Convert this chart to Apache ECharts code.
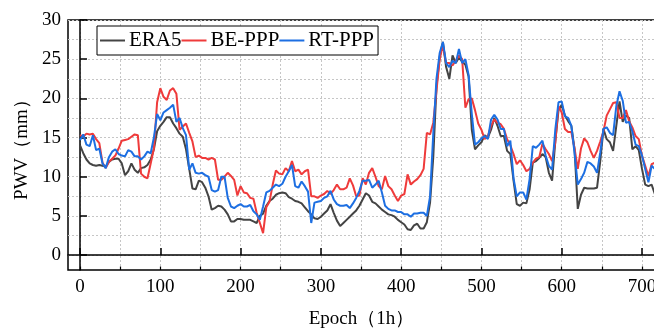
<!DOCTYPE html>
<html><head><meta charset="utf-8">
<script src="https://cdn.jsdelivr.net/npm/echarts@6/dist/echarts.min.js"></script>
<style>html,body{margin:0;padding:0;background:#fff}#c{width:654px;height:329px}</style>
</head><body><div id="c"></div>
<script>
const epochs = [0,4,8,12,16,20,24,28,32,36,40,44,48,52,56,60,64,68,72,76,80,84,88,92,96,100,104,108,112,116,120,124,128,132,136,140,144,148,152,156,160,164,168,172,176,180,184,188,192,196,200,204,208,212,216,220,224,228,232,236,240,244,248,252,256,260,264,268,272,276,280,284,288,292,296,300,304,308,312,316,320,324,328,332,336,340,344,348,352,356,360,364,368,372,376,380,384,388,392,396,400,404,408,412,416,420,424,428,432,436,440,444,448,452,456,460,464,468,472,476,480,484,488,492,496,500,504,508,512,516,520,524,528,532,536,540,544,548,552,556,560,564,568,572,576,580,584,588,592,596,600,604,608,612,616,620,624,628,632,636,640,644,648,652,656,660,664,668,672,676,680,684,688,692,696,700,704,708,712,716];
const era5 = [14.0,13.0,12.2,11.7,11.5,11.4,11.5,11.4,11.3,11.9,12.2,12.3,12.3,11.7,10.2,10.7,11.7,10.9,10.5,11.1,11.2,11.5,12.2,13.5,15.8,16.5,17.0,17.6,17.6,16.8,16.2,15.5,15.1,13.5,11.0,8.5,8.4,9.5,9.3,8.6,7.5,5.8,6.0,6.3,6.2,5.8,5.2,4.3,4.3,4.6,4.6,4.5,4.5,4.5,4.3,4.1,5.0,5.3,6.3,6.9,7.2,7.7,7.9,8.0,7.9,7.4,7.2,6.9,6.8,6.6,6.1,5.6,5.2,4.7,4.6,4.9,5.3,5.7,6.5,5.4,4.4,3.7,4.1,4.5,4.9,5.3,5.7,6.3,7.1,7.9,7.6,6.8,6.6,6.2,5.8,5.5,5.2,5.1,4.9,4.5,4.2,3.9,3.3,3.2,3.8,4.0,3.4,3.4,4.2,6.7,12.5,21.5,25.3,27.2,24.0,22.5,25.5,24.5,25.2,24.7,24.3,22.8,16.0,13.5,14.0,14.4,15.3,15.0,16.0,17.5,16.5,15.2,15.2,13.3,12.9,9.5,6.5,6.3,6.7,6.6,8.4,11.8,12.0,12.4,12.9,12.5,10.5,9.5,14.5,18.5,19.2,17.8,17.1,16.5,13.5,5.9,7.7,8.6,8.5,8.5,8.5,8.6,12.0,16.1,14.8,14.4,13.3,16.5,19.6,17.0,17.8,17.5,13.5,13.9,13.4,11.0,9.0,8.8,9.0,7.8];
const bePPP = [15.3,15.1,15.5,15.4,15.5,14.8,14.3,11.8,11.1,11.9,12.3,12.7,13.6,14.6,14.7,14.8,15.1,15.4,15.3,10.4,10.0,9.8,11.7,13.6,19.5,21.3,20.2,19.8,21.0,21.3,20.6,16.0,16.4,16.8,15.6,14.5,12.5,12.7,12.4,12.4,12.2,12.4,12.2,9.6,9.6,10.0,10.5,10.1,9.6,7.6,8.8,8.0,7.9,7.3,7.2,5.4,4.1,2.8,6.1,6.8,9.0,10.8,10.4,10.3,11.1,10.7,12.0,10.7,10.9,10.3,10.7,10.9,7.5,7.5,7.3,7.6,7.8,8.2,7.8,8.3,9.0,8.4,8.4,8.6,9.8,8.9,7.5,7.6,9.8,9.0,10.5,11.1,10.0,8.8,8.4,10.1,8.8,8.4,7.6,6.9,7.6,7.8,10.3,9.0,9.4,9.7,10.2,11.0,15.6,15.4,16.9,21.0,25.0,26.8,24.5,24.5,24.2,24.8,25.5,25.0,18.8,19.9,20.0,18.5,16.8,16.0,14.8,15.2,16.5,17.3,16.9,16.7,16.1,14.8,14.0,12.9,11.6,12.1,11.5,10.7,11.0,11.8,12.3,12.5,14.2,13.5,12.9,12.0,14.4,19.0,18.2,16.1,15.7,15.7,13.6,11.0,13.6,14.9,14.4,13.3,12.4,13.3,14.5,15.8,17.8,18.6,19.4,19.5,17.5,17.5,18.5,17.1,16.3,15.2,14.8,12.7,11.4,10.1,11.6,11.8];
const rtPPP = [14.7,15.4,14.1,13.9,15.3,13.4,13.6,11.7,11.1,12.5,13.2,13.5,12.9,12.7,12.6,13.4,13.2,12.6,12.6,12.2,12.6,13.2,13.0,15.0,18.0,17.2,18.2,18.5,18.8,19.2,17.0,17.5,16.2,15.3,10.9,11.7,10.5,10.4,10.5,10.2,10.0,8.3,8.1,8.3,10.0,10.0,7.3,6.2,6.0,6.3,6.5,6.2,6.2,6.4,5.6,5.2,4.5,6.2,8.0,8.2,8.6,9.0,8.8,9.1,10.0,10.7,11.5,8.8,8.6,9.4,8.8,8.1,4.1,6.7,6.8,6.9,7.3,7.5,8.2,7.1,6.5,6.3,6.3,6.4,6.0,6.6,7.3,8.2,9.5,9.5,9.6,8.6,9.0,9.5,8.0,6.3,5.9,5.7,5.7,5.5,5.5,5.2,5.2,4.9,5.3,5.3,5.4,5.4,5.0,7.5,15.5,22.5,25.8,27.2,24.5,24.0,24.8,24.5,26.3,24.5,25.0,23.0,18.0,14.1,14.4,14.9,15.2,14.8,17.3,17.9,17.3,16.1,16.1,13.9,14.6,9.8,7.5,8.0,8.0,7.1,9.7,13.9,13.7,14.1,14.6,12.7,11.4,10.9,16.0,19.5,19.6,17.7,17.5,16.5,13.0,9.0,9.7,10.5,11.9,11.7,11.3,10.5,13.1,16.1,16.3,15.6,15.3,19.0,20.9,19.7,16.9,17.0,15.8,14.1,13.9,12.7,11.0,9.3,11.4,11.0];
const xMajor = [0,100,200,300,400,500,600,700];
const xMinor = [0,50,100,150,200,250,300,350,400,450,500,550,600,650,700];
const yMajor = [0,5,10,15,20,25,30];
const yMinor = [0,2.5,5,7.5,10,12.5,15,17.5,20,22.5,25,27.5,30];
const seriesNames = ['ERA5','BE-PPP','RT-PPP'];
const colors = ['#444444','#ef3b3b','#1d6fe2'];

const FONT = '"Liberation Serif","Times New Roman",serif';
const XMIN = -15, XMAX = 716.2, YMIN = -1.9, YMAX = 30;
const GL = 68, GT = 20, GB = 59, GR = -1, W = 654, H = 329;
const GW = W - GL - GR, GH = H - GT - GB;
function pairs(v){ return epochs.map((e,i)=>[e, v[i]]); }
const chart = echarts.init(document.getElementById('c'), null, {renderer:'canvas'});
const lineAx = {lineStyle:{color:'#000', width:1.5}};
const grid = {show:true, color:'#c6c6c6', type:[2,2], width:1};
chart.setOption({
  animation:false,
  backgroundColor:'#fff',
  grid:{left:GL, right:GR, top:GT, bottom:GB, outerBoundsMode:'none', containLabel:false,
        show:true, borderColor:'#000', borderWidth:1.5, backgroundColor:'transparent'},
  legend:{
    data:seriesNames.map(n=>({name:n, icon:'rect'})), left:97, top:26, itemGap:0, itemWidth:25, itemHeight:2,
    backgroundColor:'#fff', borderColor:'#000', borderWidth:1, borderRadius:0, padding:[4,4,4,3],
    textStyle:{fontFamily:FONT, fontSize:21, color:'#000', padding:[0,0,0,-1]}
  },
  xAxis:[
    {type:'value', min:XMIN, max:XMAX, position:'bottom',
     name:'Epoch（1h）', nameLocation:'middle', nameGap:40,
     nameTextStyle:{fontFamily:FONT, fontSize:19, color:'#000'},
     axisLine:lineAx,
     axisTick:{show:true, inside:true, length:7, customValues:xMajor, lineStyle:{color:'#000', width:1.5}},
     axisLabel:{customValues:xMajor, fontFamily:FONT, fontSize:19, color:'#000', margin:8},
     splitLine:{show:false}},
    {type:'value', min:XMIN, max:XMAX, position:'top', offset:-GH,
     axisLine:{show:false},
     axisTick:{show:true, inside:false, length:3.5, customValues:xMinor, lineStyle:{color:'#000', width:1.2}},
     axisLabel:{show:false},
     splitLine:{show:true, lineStyle:grid}}
  ],
  yAxis:[
    {type:'value', min:YMIN, max:YMAX, position:'left',
     name:'PWV（mm）', nameLocation:'middle', nameGap:36,
     nameTextStyle:{fontFamily:FONT, fontSize:19, color:'#000'},
     axisLine:lineAx,
     axisTick:{show:true, inside:true, length:7, customValues:yMajor, lineStyle:{color:'#000', width:1.5}},
     axisLabel:{customValues:yMajor, fontFamily:FONT, fontSize:19, color:'#000', margin:7},
     splitLine:{show:false}},
    {type:'value', min:YMIN, max:YMAX, position:'right', offset:-GW,
     axisLine:{show:false},
     axisTick:{show:true, inside:false, length:4, customValues:yMinor, lineStyle:{color:'#000', width:1.2}},
     axisLabel:{show:false},
     splitLine:{show:true, lineStyle:grid}}
  ],
  series: [era5, bePPP, rtPPP].map((v,i)=>({
    name:seriesNames[i], type:'line', data:pairs(v), xAxisIndex:0, yAxisIndex:0,
    symbol:'none', showSymbol:false, color:colors[i],
    lineStyle:{color:colors[i], width:2}, z:2+i
  }))
});
</script></body></html>
